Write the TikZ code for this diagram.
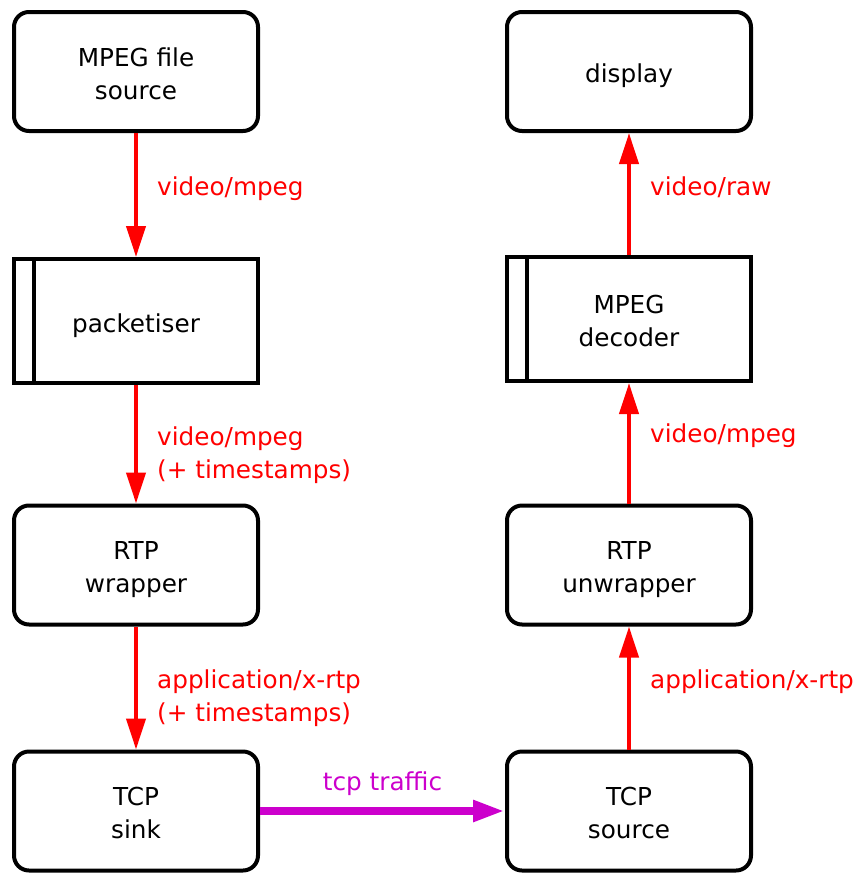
\documentclass[tikz,border=0pt]{standalone}
\usepackage{fontspec}
\setmainfont{DejaVu Sans}
\usetikzlibrary{arrows.meta, calc}
\definecolor{r}{HTML}{FF0000}
\definecolor{m}{HTML}{CC00CC}
\tikzset{
    big/.style={font=\fontsize{24.7}{33}\selectfont},
    block/.style={draw,line width=4pt,rounded corners=15pt,minimum width=244pt,minimum height=119pt,align=center,big},
    element/.style={draw,line width=4pt,minimum width=244pt,minimum height=124pt,align=center,big},
    one/.style={text height=22pt,text depth=0pt},
    two/.style={text height=55pt,text depth=0pt},
    flow/.style={r,line width=4pt,-{Triangle[length=31pt,width=19pt]}},
    traffic/.style={m,line width=8pt,-{Triangle[length=32pt,width=20pt]}},
    tag/.style={r,big,align=left,inner sep=0pt,anchor=north west}
}

\begin{document}
\begin{tikzpicture}[x=1pt, y=-1pt]
			\useasboundingbox (0,0) rectangle (861,873);
			% sending side
			\node[block,two] (src) at (136,71.5) {MPEG file\\source};
			\node[element,one] (pack) at (136,321) {packetiser};
			\node[block,two] (wrap) at (136,565) {RTP\\wrapper};
			\node[block,two] (sink) at (136,811) {TCP\\sink};
			% receiving side
			\node[block,one] (disp) at (629,71.5) {display};
			\node[element,two] (dec) at (629,319) {MPEG\\decoder};
			\node[block,two] (unwrap) at (629,565) {RTP\\unwrapper};
			\node[block,two] (tsrc) at (629,811) {TCP\\source};
			\draw[line width=3.5pt] ([xshift=22pt]pack.north west) -- ([xshift=22pt]pack.south west);
			\draw[line width=3.5pt] ([xshift=22pt]dec.north west) -- ([xshift=22pt]dec.south west);
			\draw[flow] (src) -- (pack);
			\draw[flow] (pack) -- (wrap);
			\draw[flow] (wrap) -- (sink);
			\draw[flow] (tsrc) -- (unwrap);
			\draw[flow] (unwrap) -- (dec);
			\draw[flow] (dec) -- (disp);
			\node[tag] (t1) at (157,176.2) {video/mpeg};
			\node[tag] (t2) at (157,426.2) {video/mpeg\\(+ timestamps)};
			\node[tag] (t3) at (157,669.2) {application/x-rtp\\(+ timestamps)};
			\node[tag] (t4) at (650,176.2) {video/raw};
			\node[tag] (t5) at (650,423.2) {video/mpeg};
			\node[tag] (t6) at (650,669.2) {application/x-rtp};
			\draw[traffic] (sink) -- (tsrc) node[midway, anchor=base, yshift=21pt, m, big] {tcp traffic};
		\end{tikzpicture}
\end{document}
